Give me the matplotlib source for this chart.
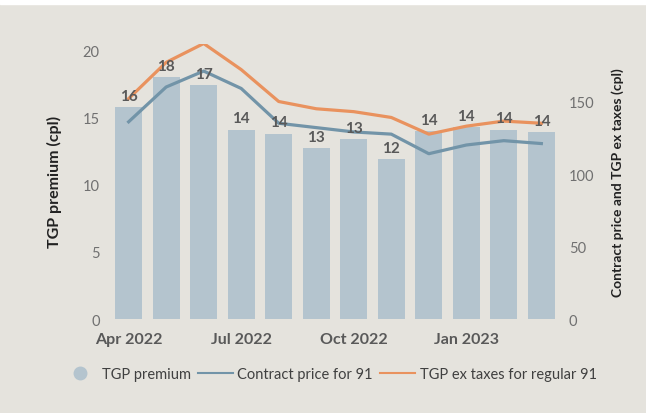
import matplotlib.pyplot as plt
from matplotlib.lines import Line2D
import numpy as np

plt.rcParams['font.family'] = ['Lato', 'DejaVu Sans']

months = ["Apr 2022", "May 2022", "Jun 2022", "Jul 2022", "Aug 2022", "Sep 2022",
          "Oct 2022", "Nov 2022", "Dec 2022", "Jan 2023", "Feb 2023", "Mar 2023"]
premium = [15.8, 18.0, 17.4, 14.1, 13.8, 12.7, 13.4, 11.9, 14.0, 14.3, 14.1, 13.9]
contract = [136, 160, 171, 159, 135, 132, 129, 127.5, 114, 120, 123, 121]
tgp_ex = [152, 177, 190, 172, 150, 145, 143, 139, 127.5, 133, 136.5, 135]
tick_months = ["Apr 2022", "Jul 2022", "Oct 2022", "Jan 2023"]

bar_col = "#B4C4CE"
blue_col = "#7294A8"
orange_col = "#E9925E"
bg = "#E5E3DD"
txt = "#595959"

fig = plt.figure(figsize=(6.46, 4.14), dpi=100, facecolor=bg)
# thin white strip across the top
fig.patches.append(plt.Rectangle((0, 0.988), 1, 0.012, transform=fig.transFigure,
                                 color="white", zorder=0))

ax = fig.add_axes([108/646, 0.227, (562-108)/646, 0.6655])
ax.set_facecolor(bg)
x = np.arange(len(months))
ax.bar(x, premium, width=0.72, color=bar_col, zorder=1)

ax.set_xlim(-0.55, 11.55)
ax.set_ylim(0, 20.5)
ax.set_yticks([0, 5, 10, 15, 20])
ax.set_xticks([months.index(m) for m in tick_months])
ax.set_xticklabels(tick_months, fontsize=11.5, fontweight="bold", color=txt)
ax.tick_params(axis="y", labelsize=10.5, labelcolor="#707070", length=0, pad=6)
ax.tick_params(axis="x", length=0, pad=9)
for s in ax.spines.values():
    s.set_visible(False)
ax.set_ylabel("TGP premium (cpl)", fontsize=11.5, fontweight="bold", color="#222222", labelpad=15)

ax2 = ax.twinx()
ax2.plot(x, contract, color=blue_col, lw=2.3, zorder=3)
ax2.plot(x, tgp_ex, color=orange_col, lw=2.3, zorder=3)
ax2.set_ylim(0, 190)
ax2.set_yticks([0, 50, 100, 150])
ax2.tick_params(axis="y", labelsize=10.5, labelcolor="#707070", length=0, pad=5)
for s in ax2.spines.values():
    s.set_visible(False)
ax2.set_ylabel("Contract price and TGP ex taxes (cpl)", fontsize=10, fontweight="bold",
               color="#222222", labelpad=12)

# bar value labels sit on top of the lines
for xi, v in zip(x, premium):
    ax2.annotate(f"{v:.0f}", (xi, v), xycoords=ax.transData, xytext=(0, 3),
                 textcoords="offset points", ha="center", va="bottom", fontsize=11,
                 fontweight="bold", color=txt, zorder=5)

handles = [Line2D([], [], marker="o", ls="none", color=bar_col, markersize=9),
           Line2D([], [], color=blue_col, lw=1.5),
           Line2D([], [], color=orange_col, lw=1.5)]
fig.legend(handles, ["TGP premium", "Contract price for 91", "TGP ex taxes for regular 91"],
           loc="center", bbox_to_anchor=(0.51, 0.094), ncol=3, frameon=False,
           fontsize=10.5, labelcolor="#404040", handlelength=2.4, handletextpad=0.3,
           columnspacing=0.5)

fig.savefig("out.png", dpi=100, facecolor=bg)
